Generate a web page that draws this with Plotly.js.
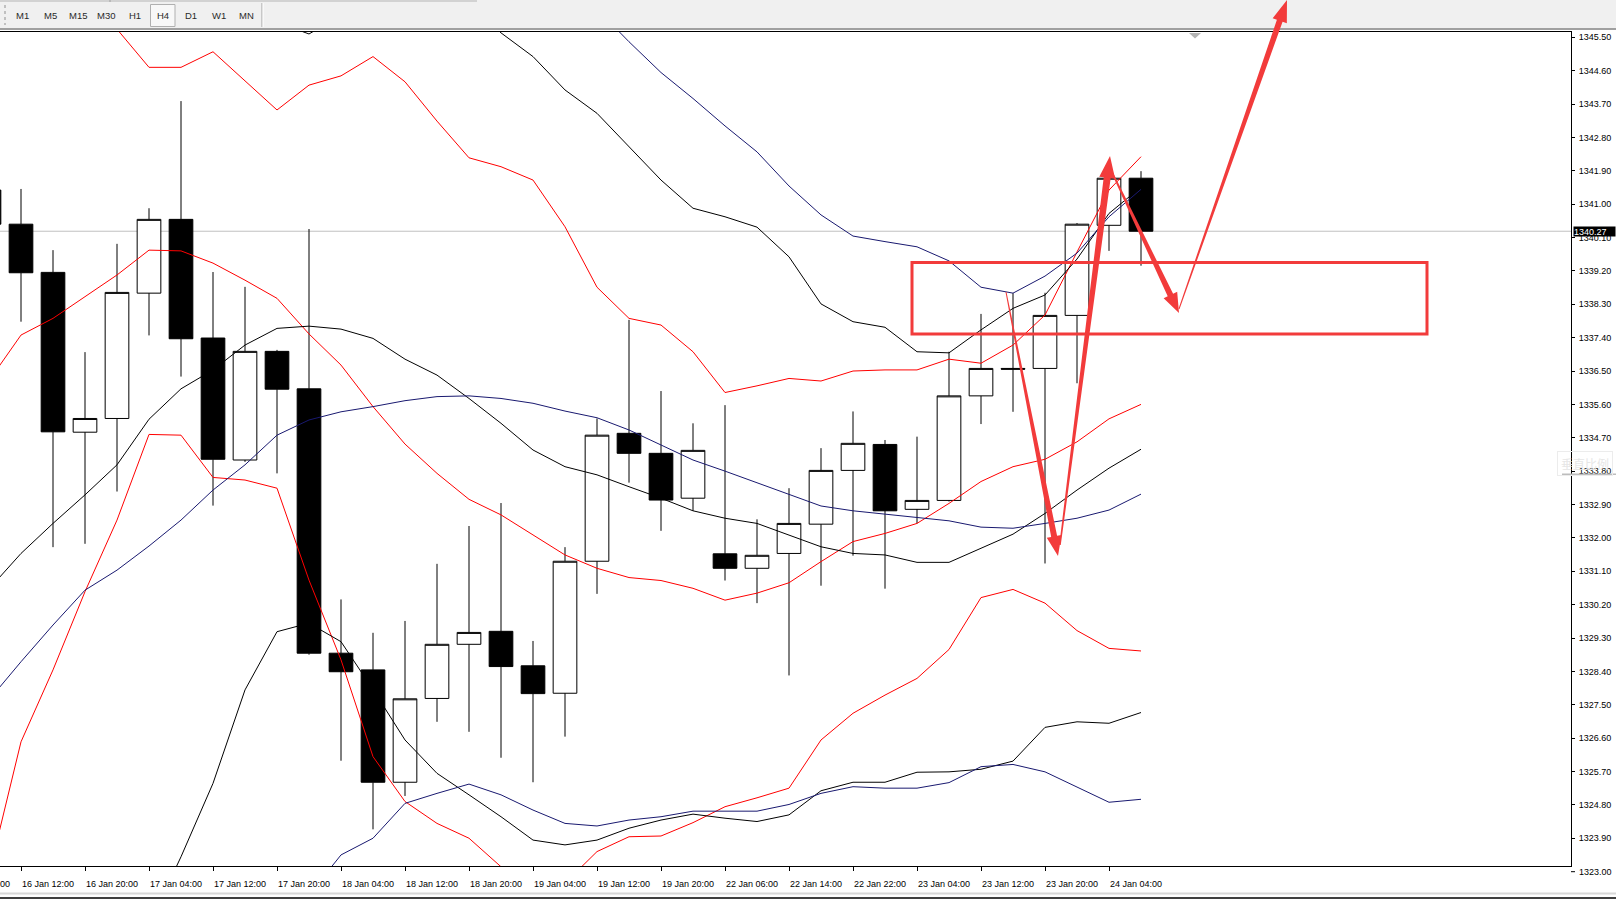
<!DOCTYPE html>
<html>
<head>
<meta charset="utf-8">
<script src="https://cdn.plot.ly/plotly-3.0.1.min.js"></script>
<style>
html,body{margin:0;padding:0;background:#ffffff;overflow:hidden;}
#chart{width:1616px;height:899px;}
</style>
</head>
<body>
<div id="chart"></div>
<script>
// ---------------- DATA ----------------
// bar index: -1 is the partially visible bar at the left edge, 35 is the last bar (24 Jan 08:00)
const barIndex = [-1,0,1,2,3,4,5,6,7,8,9,10,11,12,13,14,15,16,17,18,19,20,21,22,23,24,25,26,27,28,29,30,31,32,33,34,35];

const opens  = [1341.38,1340.46,1339.16,1334.85,1335.22,1338.60,1340.59,1337.39,1334.10,1337.03,1336.02,1328.89,1328.44,1325.41,1327.67,1329.13,1329.48,1328.55,1327.81,1331.37,1334.82,1334.28,1333.07,1331.57,1331.18,1331.58,1332.37,1333.82,1334.52,1332.77,1333.01,1335.83,1336.57,1336.57,1338.00,1340.43,1341.70];
const highs  = [1341.60,1341.41,1339.76,1337.01,1339.93,1340.89,1343.78,1339.17,1338.77,1337.07,1340.33,1330.34,1329.44,1329.76,1331.30,1332.32,1332.94,1329.22,1331.75,1335.22,1337.88,1335.96,1335.09,1335.58,1332.50,1333.34,1334.42,1335.41,1334.64,1334.73,1337.02,1338.04,1338.60,1338.61,1340.49,1341.72,1341.89];
const lows   = [1340.20,1337.83,1331.75,1331.84,1333.25,1337.46,1336.35,1332.87,1334.05,1333.74,1328.85,1325.99,1324.14,1325.04,1327.04,1326.77,1326.07,1325.41,1326.64,1330.49,1333.49,1332.19,1332.73,1330.85,1330.24,1328.29,1330.71,1331.52,1330.63,1332.39,1332.98,1335.07,1335.40,1331.31,1336.17,1339.74,1339.34];
const closes = [1340.46,1339.15,1334.86,1335.22,1338.62,1340.59,1337.37,1334.12,1337.03,1336.01,1328.89,1328.39,1325.41,1327.66,1329.13,1329.45,1328.53,1327.80,1331.37,1334.77,1334.28,1333.02,1334.36,1331.18,1331.53,1332.39,1333.82,1334.55,1332.73,1333.01,1335.83,1336.57,1336.55,1338.00,1340.46,1341.70,1340.27];

// Bollinger-style bands (red / black / navy sets)
const redUpper   = [1349.53,1348.44,1347.40,1346.46,1345.72,1344.69,1344.69,1345.11,1344.33,1343.54,1344.21,1344.46,1344.98,1344.30,1343.24,1342.25,1342.01,1341.65,1340.39,1338.76,1337.92,1337.74,1337.02,1335.92,1336.10,1336.30,1336.23,1336.50,1336.53,1336.53,1336.82,1336.71,1337.20,1338.01,1339.71,1341.38,1342.28];
const redMiddle  = [1336.24,1337.47,1337.92,1338.50,1339.09,1339.76,1339.74,1339.41,1338.95,1338.46,1337.50,1336.66,1335.54,1334.53,1333.74,1333.04,1332.62,1332.08,1331.54,1331.18,1330.93,1330.85,1330.64,1330.32,1330.51,1330.79,1331.36,1331.90,1332.12,1332.39,1332.93,1333.52,1333.92,1334.12,1334.59,1335.21,1335.60];
const redLower   = [1322.94,1326.50,1328.44,1330.55,1332.48,1334.79,1334.77,1333.63,1333.56,1333.34,1330.86,1328.71,1326.10,1324.89,1324.30,1323.90,1323.13,1322.61,1322.69,1323.54,1323.94,1323.96,1324.32,1324.75,1324.99,1325.25,1326.55,1327.27,1327.76,1328.21,1328.99,1330.39,1330.61,1330.24,1329.50,1329.02,1328.95];

const blackUpper  = [1347.05,1347.32,1347.58,1347.85,1348.12,1348.66,1348.64,1347.67,1346.51,1345.91,1345.59,1346.10,1346.86,1347.10,1347.13,1346.45,1345.62,1344.98,1344.08,1343.45,1342.55,1341.65,1340.89,1340.66,1340.38,1339.58,1338.31,1337.83,1337.68,1337.02,1336.99,1337.61,1338.19,1338.55,1339.52,1340.75,1341.46];
const blackMiddle = [1330.62,1331.58,1332.39,1333.16,1333.97,1335.20,1336.02,1336.53,1337.20,1337.65,1337.71,1337.63,1337.38,1336.82,1336.39,1335.76,1335.09,1334.37,1333.92,1333.70,1333.38,1333.07,1332.73,1332.53,1332.39,1332.08,1331.76,1331.58,1331.54,1331.34,1331.34,1331.72,1332.10,1332.66,1333.29,1333.88,1334.39];
const blackLower  = [1314.14,1315.22,1316.84,1318.32,1319.81,1321.56,1323.40,1325.38,1327.90,1329.47,1329.70,1329.20,1327.91,1326.55,1325.65,1325.07,1324.48,1323.85,1323.72,1323.85,1324.17,1324.39,1324.55,1324.44,1324.35,1324.53,1325.18,1325.41,1325.41,1325.68,1325.69,1325.76,1325.98,1326.89,1327.04,1327.00,1327.29];

const blueUpper  = [1348.93,1348.80,1348.66,1348.53,1348.39,1348.34,1348.28,1348.23,1348.12,1347.99,1347.85,1347.37,1347.18,1346.56,1346.51,1346.32,1346.45,1346.59,1346.53,1346.26,1345.38,1344.55,1343.85,1343.11,1342.41,1341.49,1340.71,1340.14,1339.99,1339.85,1339.47,1338.76,1338.60,1339.06,1339.68,1340.66,1341.40];
const blueMiddle = [1327.63,1328.66,1329.65,1330.59,1331.13,1331.78,1332.48,1333.29,1333.97,1334.77,1335.18,1335.40,1335.54,1335.70,1335.81,1335.83,1335.76,1335.63,1335.42,1335.24,1334.91,1334.50,1334.10,1333.80,1333.49,1333.16,1332.86,1332.73,1332.64,1332.53,1332.46,1332.29,1332.26,1332.39,1332.53,1332.75,1333.18];
const blueLower  = [1314.14,1314.68,1315.49,1316.30,1317.11,1317.92,1318.73,1319.53,1320.34,1321.15,1322.37,1323.45,1323.90,1324.84,1325.11,1325.36,1325.07,1324.66,1324.30,1324.23,1324.39,1324.48,1324.63,1324.63,1324.63,1324.81,1325.11,1325.29,1325.25,1325.25,1325.40,1325.83,1325.89,1325.69,1325.29,1324.87,1324.95];

// time axis labels (every second H4 bar)
const timeTickIdx = [0,2,4,6,8,10,12,14,16,18,20,22,24,26,28,30,32,34];
const timeTickText = ["16 Jan 12:00","16 Jan 20:00","17 Jan 04:00","17 Jan 12:00","17 Jan 20:00","18 Jan 04:00","18 Jan 12:00","18 Jan 20:00","19 Jan 04:00","19 Jan 12:00","19 Jan 20:00","22 Jan 06:00","22 Jan 14:00","22 Jan 22:00","23 Jan 04:00","23 Jan 12:00","23 Jan 20:00","24 Jan 04:00"];
const partialTickText = "16 Jan 04:00";

// price scale labels
const priceTick0 = 1323.00;
const priceStep = 0.90;
const priceBottomLabel = "1323.00";

// timeframe toolbar
const timeframes = ["M1","M5","M15","M30","H1","H4","D1","W1","MN"];
const activeTimeframe = "H4";

// ---------------- GEOMETRY HELPERS ----------------
const W = 1616, H = 899;
const M = {l:0, r:45, t:32, b:33};
const PW = W - M.l - M.r, PH = H - M.t - M.b;
const px = x => (x - M.l) / PW;             // pixel x -> paper x
const py = y => (M.t + PH - y) / PH;        // pixel y -> paper y

const FONT = "Liberation Sans, Arial, sans-serif";
const RED = "#FF0000", BLK = "#000000", NAVY = "#191970";
const MARK = "#F23B3B";

function arrowPath(x1,y1,x2,y2,w0,w1,hl,hw){
  const dx=x2-x1, dy=y2-y1, L=Math.hypot(dx,dy);
  const ux=dx/L, uy=dy/L, nx=-uy, ny=ux;
  const bx=x2-ux*hl, by=y2-uy*hl;
  const pts=[[x1+nx*w0/2,y1+ny*w0/2],[bx+nx*w1/2,by+ny*w1/2],[bx+nx*hw/2,by+ny*hw/2],[x2,y2],
             [bx-nx*hw/2,by-ny*hw/2],[bx-nx*w1/2,by-ny*w1/2],[x1-nx*w0/2,y1-ny*w0/2]];
  return 'M' + pts.map(p => px(p[0]).toFixed(5) + ',' + py(p[1]).toFixed(5)).join('L') + 'Z';
}

// ---------------- TRACES ----------------
const traces = [];
traces.push({
  type:'candlestick', x:barIndex, open:opens, high:highs, low:lows, close:closes,
  increasing:{line:{color:BLK,width:1}, fillcolor:'#FFFFFF'},
  decreasing:{line:{color:BLK,width:1}, fillcolor:'#000000'},
  whiskerwidth:0, hoverinfo:'skip', showlegend:false
});
function band(y,color){ return {type:'scatter',mode:'lines',x:barIndex,y:y,line:{color:color,width:1},hoverinfo:'skip',showlegend:false}; }
[redUpper,redMiddle,redLower].forEach(s=>traces.push(band(s,RED)));
[blackUpper,blackMiddle,blackLower].forEach(s=>traces.push(band(s,BLK)));
[blueUpper,blueMiddle,blueLower].forEach(s=>traces.push(band(s,NAVY)));

// ---------------- SHAPES ----------------
const lastClose = closes[closes.length-1];
const shapes = [];
// current price line
shapes.push({type:'line', xref:'paper', yref:'y', x0:0, x1:1, y0:lastClose, y1:lastClose, line:{color:'#C0C0C0',width:1}, layer:'below'});
// toolbar
shapes.push({type:'rect', xref:'paper', yref:'paper', x0:px(0), x1:px(W), y0:py(0), y1:py(28), fillcolor:'#F0F0F0', line:{width:0}});
shapes.push({type:'line', xref:'paper', yref:'paper', x0:px(0), x1:px(W), y0:py(29), y1:py(29), line:{color:'#A0A0A0',width:2}});
shapes.push({type:'line', xref:'paper', yref:'paper', x0:px(0), x1:px(477), y0:py(1), y1:py(1), line:{color:'#B4B4B4',width:1}});
shapes.push({type:'line', xref:'paper', yref:'paper', x0:px(110), x1:px(110), y0:py(0), y1:py(2), line:{color:'#A0A0A0',width:1}});
shapes.push({type:'line', xref:'paper', yref:'paper', x0:px(5), x1:px(5), y0:py(5), y1:py(25), line:{color:'#909090',width:1,dash:'dot'}});
shapes.push({type:'rect', xref:'paper', yref:'paper', x0:px(150.5), x1:px(175), y0:py(4.5), y1:py(26.5), fillcolor:'#F8F8F8', line:{color:'#B0B0B0',width:1}});
shapes.push({type:'line', xref:'paper', yref:'paper', x0:px(262), x1:px(262), y0:py(3), y1:py(27), line:{color:'#A0A0A0',width:1}});
shapes.push({type:'line', xref:'paper', yref:'paper', x0:px(263), x1:px(263), y0:py(3), y1:py(27), line:{color:'#FFFFFF',width:1}});
// chart-shift marker
shapes.push({type:'path', xref:'paper', yref:'paper', path:'M'+px(1189)+','+py(33)+'L'+px(1201)+','+py(33)+'L'+px(1195)+','+py(38.5)+'Z', fillcolor:'#B4B4B4', line:{width:0}});
// bottom tick for 1323.00 label
shapes.push({type:'line', xref:'paper', yref:'paper', x0:px(1571), x1:px(1575), y0:py(871.7), y1:py(871.7), line:{color:BLK,width:1}});
// window bottom border
shapes.push({type:'line', xref:'paper', yref:'paper', x0:px(0), x1:px(W), y0:py(893.5), y1:py(893.5), line:{color:'#D8D8D8',width:2}});
shapes.push({type:'line', xref:'paper', yref:'paper', x0:px(0), x1:px(W), y0:py(898), y1:py(898), line:{color:'#404040',width:2}});
// tooltip ghost shadow
shapes.push({type:'line', xref:'paper', yref:'paper', x0:px(1562), x1:px(1616), y0:py(474.3), y1:py(474.3), line:{color:'#BDBDBD',width:1.5}});
// hand-drawn markup: zone rectangle and arrows
shapes.push({type:'rect', xref:'paper', yref:'paper', x0:px(912), x1:px(1427), y0:py(262.5), y1:py(334), line:{color:MARK,width:3}, fillcolor:'rgba(0,0,0,0)'});
shapes.push({type:'path', xref:'paper', yref:'paper', path:arrowPath(1006,292,1058,556,1,6,20,15), fillcolor:MARK, line:{width:0}});
shapes.push({type:'path', xref:'paper', yref:'paper', path:arrowPath(1060,545,1110,156,1.5,7,22,16), fillcolor:MARK, line:{width:0}});
shapes.push({type:'path', xref:'paper', yref:'paper', path:arrowPath(1110,168,1179,313,1.5,6,20,15), fillcolor:MARK, line:{width:0}});
shapes.push({type:'path', xref:'paper', yref:'paper', path:arrowPath(1179,309,1287,0,1,6,22,15), fillcolor:MARK, line:{width:0}});

// ---------------- ANNOTATIONS ----------------
const annotations = [];
const tfX = [22,50,78,106,134.7,162.5,190.7,219.3,246];
timeframes.forEach((t,i)=>annotations.push({xref:'paper',yref:'paper',x:px(tfX[i]),y:py(16),text:t,showarrow:false,xanchor:'center',yanchor:'middle',font:{family:FONT,size:9.5,color:'#2A2A2A'}}));
annotations.push({xref:'paper',yref:'paper',x:px(1577),y:py(871.7),text:priceBottomLabel,showarrow:false,xanchor:'left',yanchor:'middle',font:{family:FONT,size:9,color:BLK}});
annotations.push({xref:'paper',yref:'paper',x:px(-44),y:py(884),text:partialTickText,showarrow:false,xanchor:'left',yanchor:'middle',font:{family:FONT,size:9,color:BLK}});
annotations.push({xref:'paper',yref:'paper',x:px(1585),y:py(463),text:'垂直比例',showarrow:false,xanchor:'center',yanchor:'middle',font:{family:'Noto Sans CJK SC',size:12,color:'#E6E6E6'},bordercolor:'#ECECEC',borderwidth:1,borderpad:3});
annotations.push({xref:'paper',yref:'y',x:px(1572.5),y:lastClose,text:lastClose.toFixed(2),showarrow:false,xanchor:'left',yanchor:'middle',align:'left',bgcolor:'#000000',borderpad:0,width:41,height:9,font:{family:FONT,size:9,color:'#FFFFFF'}});

// ---------------- LAYOUT ----------------
const layout = {
  width:W, height:H, margin:M,
  paper_bgcolor:'#FFFFFF', plot_bgcolor:'#FFFFFF',
  showlegend:false, hovermode:false, dragmode:false,
  boxgap:0.26, boxgroupgap:0,
  font:{family:FONT,size:9,color:BLK},
  xaxis:{
    range:[-21/32, (PW-21)/32], rangeslider:{visible:false},
    tickmode:'array', tickvals:timeTickIdx, ticktext:timeTickText,
    ticks:'outside', ticklen:4, tickcolor:BLK, tickwidth:1,
    ticklabelposition:'outside right', ticklabelstandoff:9,
    showline:true, linecolor:BLK, linewidth:1, mirror:true,
    showgrid:false, zeroline:false, fixedrange:true,
    tickfont:{family:FONT,size:9,color:BLK}
  },
  yaxis:{
    side:'right', range:[1323.151, 1345.643],
    tickmode:'linear', tick0:priceTick0, dtick:priceStep, tickformat:'.2f',
    ticks:'outside', ticklen:3, tickcolor:BLK, tickwidth:1, ticklabelstandoff:2,
    showline:true, linecolor:BLK, linewidth:1,
    showgrid:false, zeroline:false, fixedrange:true,
    tickfont:{family:FONT,size:9,color:BLK}
  },
  shapes:shapes, annotations:annotations
};

Plotly.newPlot('chart', traces, layout, {displayModeBar:false, staticPlot:true});
</script>
</body>
</html>
